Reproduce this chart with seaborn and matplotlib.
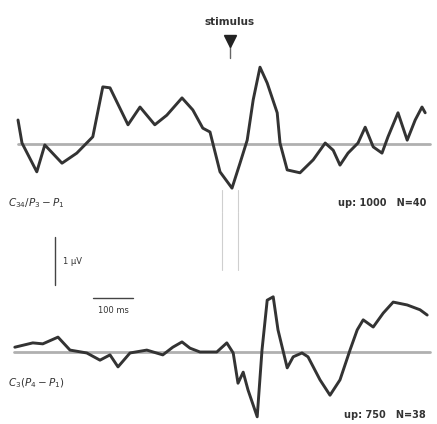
import numpy as np
import pandas as pd
import seaborn as sns
import matplotlib.pyplot as plt

# ---- data (time in ms relative to stimulus, amplitude in µV) ----
top_t = [-530, -520, -483, -463, -420, -383, -343, -318, -300, -255, -225, -188, -158, -120,
         -93, -68, -50, -25, 5, 25, 43, 58, 75, 93, 118, 125, 143, 175, 208, 238, 258, 275,
         295, 320, 338, 358, 380, 395, 420, 443, 463, 480, 488]
top_v = [0.50, 0.02, -0.58, -0.02, -0.40, -0.19, 0.15, 1.19, 1.17, 0.40, 0.77, 0.40, 0.60, 0.96,
         0.71, 0.33, 0.25, -0.58, -0.92, -0.40, 0.08, 0.92, 1.60, 1.27, 0.65, 0.02, -0.54, -0.60,
         -0.33, 0.02, -0.13, -0.44, -0.19, 0.02, 0.35, -0.06, -0.19, 0.15, 0.65, 0.08, 0.50, 0.77, 0.65]

bot_t = [-538, -493, -468, -430, -400, -358, -325, -300, -280, -250, -208, -168, -143, -120,
         -100, -75, -33, -8, 8, 20, 33, 45, 68, 80, 93, 108, 120, 143, 158, 180, 195, 225, 250,
         275, 300, 318, 333, 358, 383, 408, 443, 475, 493]
bot_v = [0.10, 0.19, 0.17, 0.31, 0.04, -0.02, -0.17, -0.06, -0.31, -0.02, 0.04, -0.06, 0.10, 0.21,
         0.08, 0.00, 0.00, 0.19, -0.02, -0.65, -0.42, -0.79, -1.35, 0.04, 1.08, 1.15, 0.46, -0.33,
         -0.10, -0.02, -0.10, -0.58, -0.90, -0.58, 0.04, 0.46, 0.67, 0.52, 0.81, 1.04, 0.98, 0.88, 0.77]

stim_label = "stimulus"
top_label = r"$C_{34}/P_{3}-P_{1}$"
top_info = "up: 1000   N=40"
bot_label = r"$C_{3}(P_{4}-P_{1})$"
bot_info = "up: 750   N=38"
scale_v_label = "1 µV"
scale_t_label = "100 ms"

sns.set_theme(style="white")
plt.rcParams['font.family'] = ['DejaVu Sans']

fig = plt.figure(figsize=(4.37, 4.24), dpi=100)
ax1 = fig.add_axes([0, 0.5, 1, 0.5])
ax2 = fig.add_axes([0, 0.0, 1, 0.5])

XLIM = (-575, 517.5)

trace_col = "#333333"
base_col = "#b0b0b0"

# baselines
ax1.plot([-530, 500], [0, 0], color=base_col, lw=2.0, zorder=1)
ax2.plot([-540, 500], [0, 0], color=base_col, lw=2.0, zorder=1)

# stimulus markers (faint vertical lines)
for tx in (-20, 20):
    ax1.plot([tx, tx], [-0.96, -1.417], color="#cfcfcf", lw=0.8, zorder=0)
    ax2.plot([tx, tx], [2.917, 1.7], color="#cfcfcf", lw=0.8, zorder=0)

df_top = pd.DataFrame({"t": top_t, "v": top_v})
df_bot = pd.DataFrame({"t": bot_t, "v": bot_v})
sns.lineplot(data=df_top, x="t", y="v", ax=ax1, color=trace_col, lw=2.1, sort=False,
             estimator=None, zorder=3)
sns.lineplot(data=df_bot, x="t", y="v", ax=ax2, color=trace_col, lw=2.1, sort=False,
             estimator=None, zorder=3)
for ax in (ax1, ax2):
    ax.axis("off")
    ax.set_xlim(*XLIM)
ax1.set_ylim(-1.417, 3.0)
ax2.set_ylim(-1.5, 2.917)

# stimulus label and arrow
ax1.text(0, 2.54, stim_label, ha="center", va="center", fontsize=7.5, fontweight="bold",
         color="#333333")
ax1.plot([0], [2.15], marker="v", markersize=8, color="#222222", zorder=4)
ax1.plot([0, 0], [2.15, 1.8], color="#666666", lw=1.0)

# labels
ax1.text(-555, -1.23, top_label, ha="left", va="center", fontsize=7.5, color="#333333")
ax1.text(490, -1.23, top_info, ha="right", va="center", fontsize=7, fontweight="bold",
         color="#333333")
ax2.text(-555, -0.65, bot_label, ha="left", va="center", fontsize=7.5, color="#333333")
ax2.text(490, -1.31, bot_info, ha="right", va="center", fontsize=7, fontweight="bold",
         color="#333333")

# scale bars
ax2.plot([-437.5, -437.5], [1.40, 2.40], color="#444444", lw=1.0)
ax2.text(-417, 1.88, scale_v_label, ha="left", va="center", fontsize=6, color="#333333")
ax2.plot([-342.5, -242.5], [1.125, 1.125], color="#444444", lw=1.0)
ax2.text(-292.5, 0.86, scale_t_label, ha="center", va="center", fontsize=6, color="#333333")

fig.savefig("out.png", dpi=100, facecolor="white")
